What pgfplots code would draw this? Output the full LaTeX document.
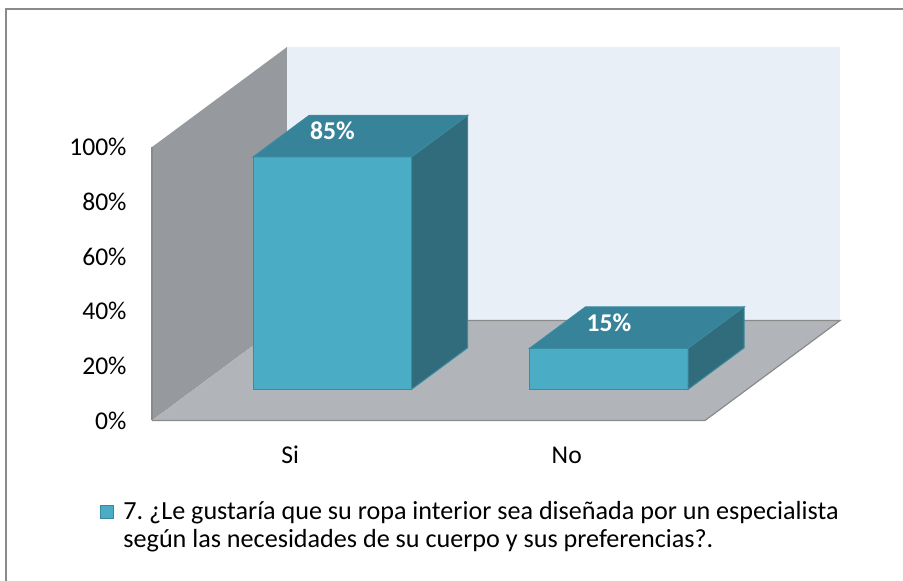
\documentclass[border=0pt]{standalone}
\usepackage{pgfplots}
\pgfplotsset{compat=1.18}
\usepackage{fontspec}
\setmainfont{Carlito}
\definecolor{leftwall}{HTML}{96999E}
\definecolor{floorc}{HTML}{B1B5BA}
\definecolor{backwall}{HTML}{E9EFF7}
\definecolor{edgec}{HTML}{8A8A8A}
\definecolor{barfront}{HTML}{4BACC6}
\definecolor{bartop}{HTML}{37839A}
\definecolor{barside}{HTML}{316C7C}
\definecolor{baredge}{HTML}{3A8AA0}
\newcommand{\drawbar}[3]{%
  \addplot3[forget plot, fill=barfront, draw=baredge, line width=0.75pt] coordinates {(#1,0.312,0) (#2,0.312,0) (#2,0.312,#3) (#1,0.312,#3)} -- cycle;
  \addplot3[forget plot, fill=bartop, draw=baredge, line width=0.75pt] coordinates {(#1,0.312,#3) (#2,0.312,#3) (#2,0.727,#3) (#1,0.727,#3)} -- cycle;
  \addplot3[forget plot, fill=barside, draw=baredge, line width=0.75pt] coordinates {(#2,0.312,0) (#2,0.727,0) (#2,0.727,#3) (#2,0.312,#3)} -- cycle;
}
\begin{document}
\fontsize{19}{23}\selectfont
\begin{tikzpicture}
\begin{axis}[
  x={(207.375pt,0pt)}, y={(101.25pt,75pt)}, z={(0pt,2.0505pt)},
  xmin=0, xmax=2, ymin=0, ymax=1, zmin=0, zmax=100,
  clip=false,
  axis line style={draw=none},
  tick style={draw=none},
  xtick={0.5,1.5}, xticklabels={Si,No},
  ytick=\empty,
  ztick={0,20,40,60,80,100},
  zticklabel={\pgfmathprintnumber{\tick}\%},
  /pgf/number format/assume math mode=true,
  ticklabel style={font=\fontsize{19.2}{23}\selectfont},
  xticklabel style={anchor=center, inner sep=0pt, yshift=-25.9pt},
  zticklabel style={anchor=east, inner sep=0pt, xshift=-18.9pt},
  legend style={at={(axis cs:-0.188,0,-29.6)}, anchor=north west, draw=none, fill=none,
    inner sep=0pt, column sep=6.75pt, font=\fontsize{19.6}{20.4}\selectfont,
    nodes={inner sep=0pt}},
  legend cell align=left,
]
% walls and floor
\addplot3[forget plot, fill=backwall, draw=none] coordinates {(0,1,0) (2,1,0) (2,1,100) (0,1,100)} -- cycle;
\addplot3[forget plot, draw=black!22, line width=0.75pt] coordinates {(0,1,0) (0,1,100)};
\addplot3[forget plot, fill=leftwall, draw=none] coordinates {(0,0,0) (0,1,0) (0,1,100) (0,0,100)} -- cycle;
\addplot3[forget plot, draw=edgec, line width=0.9pt] coordinates {(0,0,0) (0,0,100)};
\addplot3[forget plot, fill=floorc, draw=none] coordinates {(0,0,0) (2,0,0) (2,1,0) (0,1,0)} -- cycle;
\addplot3[forget plot, draw=edgec, line width=0.9pt] coordinates {(0,0,0) (2,0,0) (2,1,0) (0,1,0)};
% bars
\drawbar{0.2135}{0.7865}{85}
\drawbar{1.2135}{1.7865}{15}
\node[font=\fontsize{19.2}{23}\selectfont\bfseries, text=white, yshift=19.5pt] at (axis cs:0.5,0.312,85) {85\%};
\node[font=\fontsize{19.2}{23}\selectfont\bfseries, text=white, yshift=19.5pt] at (axis cs:1.5,0.312,15) {15\%};
% legend
\addlegendimage{legend image code/.code={\draw[fill=barfront, draw=baredge, line width=0.9pt] (0pt,-4.5pt) rectangle (9.75pt,5.25pt);}}
\addlegendentry{\parbox[t]{580pt}{7.\ ¿Le gustaría que su ropa interior sea diseñada por un especialista\\según las necesidades de su cuerpo y sus preferencias?.}}
% chart border (top and left visible)
\draw[edgec, line width=1.5pt] (axis cs:-0.5262,0,-58.67) -- (axis cs:-0.5262,0,150.33) -- (axis cs:2.7161,0,150.33);
\coordinate (bbl) at (axis cs:-0.5497,0,-58.67);
\coordinate (btr) at (axis cs:2.7161,0,153.80);
\end{axis}
\pgfresetboundingbox
\path[use as bounding box] (bbl) rectangle (btr);
\end{tikzpicture}
\end{document}
